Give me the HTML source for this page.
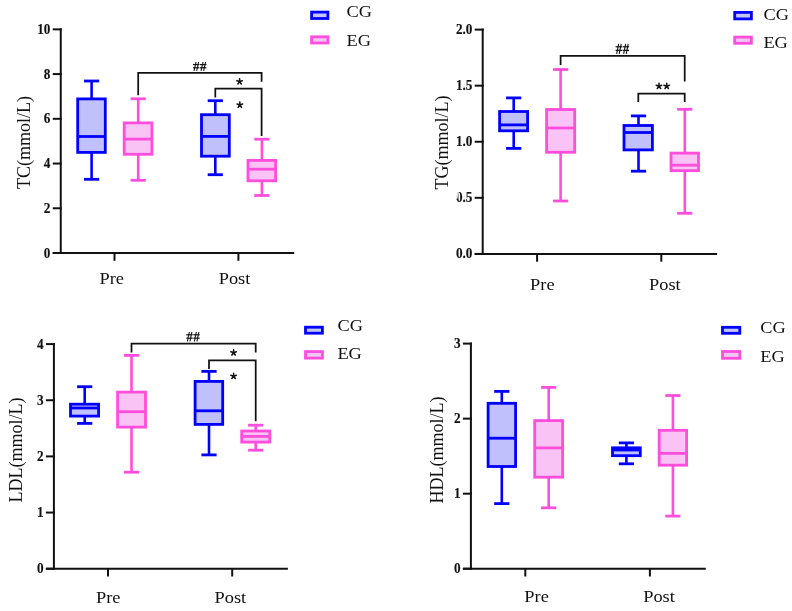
<!DOCTYPE html>
<html><head><meta charset="utf-8"><style>
html,body{margin:0;padding:0;background:#fff;overflow:hidden;}
svg{display:block;font-family:"Liberation Serif",serif;will-change:transform;}
text{fill:#111;}
</style></head><body>
<svg width="792" height="611" viewBox="0 0 792 611">
<rect width="792" height="611" fill="#fff"/>
<line x1="60.75" y1="28.35" x2="60.75" y2="254.00" stroke="#111111" stroke-width="2.0" stroke-linecap="butt"/>
<line x1="52.75" y1="253.00" x2="294.20" y2="253.00" stroke="#111111" stroke-width="2.0" stroke-linecap="butt"/>
<line x1="52.75" y1="253.00" x2="61.75" y2="253.00" stroke="#111111" stroke-width="2.0" stroke-linecap="butt"/>
<text transform="translate(50.45,257.50) scale(0.93,1)" font-size="14.2" font-weight="bold" text-anchor="end" stroke="#111" stroke-width="0.15">0</text>
<line x1="52.75" y1="208.27" x2="61.75" y2="208.27" stroke="#111111" stroke-width="2.0" stroke-linecap="butt"/>
<text transform="translate(50.45,212.77) scale(0.93,1)" font-size="14.2" font-weight="bold" text-anchor="end" stroke="#111" stroke-width="0.15">2</text>
<line x1="52.75" y1="163.54" x2="61.75" y2="163.54" stroke="#111111" stroke-width="2.0" stroke-linecap="butt"/>
<text transform="translate(50.45,168.04) scale(0.93,1)" font-size="14.2" font-weight="bold" text-anchor="end" stroke="#111" stroke-width="0.15">4</text>
<line x1="52.75" y1="118.81" x2="61.75" y2="118.81" stroke="#111111" stroke-width="2.0" stroke-linecap="butt"/>
<text transform="translate(50.45,123.31) scale(0.93,1)" font-size="14.2" font-weight="bold" text-anchor="end" stroke="#111" stroke-width="0.15">6</text>
<line x1="52.75" y1="74.08" x2="61.75" y2="74.08" stroke="#111111" stroke-width="2.0" stroke-linecap="butt"/>
<text transform="translate(50.45,78.58) scale(0.93,1)" font-size="14.2" font-weight="bold" text-anchor="end" stroke="#111" stroke-width="0.15">8</text>
<line x1="52.75" y1="29.35" x2="61.75" y2="29.35" stroke="#111111" stroke-width="2.0" stroke-linecap="butt"/>
<text transform="translate(50.45,33.85) scale(0.93,1)" font-size="14.2" font-weight="bold" text-anchor="end" stroke="#111" stroke-width="0.15">10</text>
<line x1="114.50" y1="253.00" x2="114.50" y2="260.80" stroke="#111111" stroke-width="2.0" stroke-linecap="butt"/>
<line x1="238.40" y1="253.00" x2="238.40" y2="260.80" stroke="#111111" stroke-width="2.0" stroke-linecap="butt"/>
<line x1="91.60" y1="81.00" x2="91.60" y2="98.50" stroke="#0000ff" stroke-width="2.6" stroke-linecap="butt"/>
<line x1="91.60" y1="152.80" x2="91.60" y2="179.30" stroke="#0000ff" stroke-width="2.6" stroke-linecap="butt"/>
<line x1="84.00" y1="81.00" x2="99.20" y2="81.00" stroke="#0000ff" stroke-width="2.8" stroke-linecap="butt"/>
<line x1="84.00" y1="179.30" x2="99.20" y2="179.30" stroke="#0000ff" stroke-width="2.8" stroke-linecap="butt"/>
<rect x="77.70" y="98.90" width="27.60" height="53.50" fill="#c0c0fc" stroke="#0000ff" stroke-width="2.8"/>
<line x1="77.70" y1="136.50" x2="105.30" y2="136.50" stroke="#0000ff" stroke-width="2.8" stroke-linecap="butt"/>
<line x1="138.20" y1="98.80" x2="138.20" y2="122.50" stroke="#ff4ddc" stroke-width="2.6" stroke-linecap="butt"/>
<line x1="138.20" y1="154.70" x2="138.20" y2="180.30" stroke="#ff4ddc" stroke-width="2.6" stroke-linecap="butt"/>
<line x1="130.60" y1="98.80" x2="145.80" y2="98.80" stroke="#ff4ddc" stroke-width="2.8" stroke-linecap="butt"/>
<line x1="130.60" y1="180.30" x2="145.80" y2="180.30" stroke="#ff4ddc" stroke-width="2.8" stroke-linecap="butt"/>
<rect x="124.20" y="122.90" width="27.70" height="31.40" fill="#f9c3f5" stroke="#ff4ddc" stroke-width="2.8"/>
<line x1="124.20" y1="139.10" x2="151.90" y2="139.10" stroke="#ff4ddc" stroke-width="2.8" stroke-linecap="butt"/>
<line x1="215.30" y1="100.70" x2="215.30" y2="114.30" stroke="#0000ff" stroke-width="2.6" stroke-linecap="butt"/>
<line x1="215.30" y1="156.60" x2="215.30" y2="174.70" stroke="#0000ff" stroke-width="2.6" stroke-linecap="butt"/>
<line x1="207.70" y1="100.70" x2="222.90" y2="100.70" stroke="#0000ff" stroke-width="2.8" stroke-linecap="butt"/>
<line x1="207.70" y1="174.70" x2="222.90" y2="174.70" stroke="#0000ff" stroke-width="2.8" stroke-linecap="butt"/>
<rect x="201.50" y="114.70" width="27.80" height="41.50" fill="#c0c0fc" stroke="#0000ff" stroke-width="2.8"/>
<line x1="201.50" y1="136.40" x2="229.30" y2="136.40" stroke="#0000ff" stroke-width="2.8" stroke-linecap="butt"/>
<line x1="261.90" y1="139.20" x2="261.90" y2="160.00" stroke="#ff4ddc" stroke-width="2.6" stroke-linecap="butt"/>
<line x1="261.90" y1="181.20" x2="261.90" y2="195.50" stroke="#ff4ddc" stroke-width="2.6" stroke-linecap="butt"/>
<line x1="254.30" y1="139.20" x2="269.50" y2="139.20" stroke="#ff4ddc" stroke-width="2.8" stroke-linecap="butt"/>
<line x1="254.30" y1="195.50" x2="269.50" y2="195.50" stroke="#ff4ddc" stroke-width="2.8" stroke-linecap="butt"/>
<rect x="248.00" y="160.40" width="27.60" height="20.40" fill="#f9c3f5" stroke="#ff4ddc" stroke-width="2.8"/>
<line x1="248.00" y1="169.20" x2="275.60" y2="169.20" stroke="#ff4ddc" stroke-width="2.8" stroke-linecap="butt"/>
<polyline points="138.20,95.30 138.20,72.80 261.60,72.80 261.60,81.80" fill="none" stroke="#111111" stroke-width="1.75" stroke-linejoin="miter"/>
<polyline points="215.30,97.50 215.30,88.50 261.60,88.50 261.60,136.00" fill="none" stroke="#111111" stroke-width="1.75" stroke-linejoin="miter"/>
<line x1="194.05" y1="70.90" x2="196.05" y2="62.00" stroke="#111" stroke-width="1.1" stroke-linecap="butt"/>
<line x1="196.61" y1="70.90" x2="198.61" y2="62.00" stroke="#111" stroke-width="1.1" stroke-linecap="butt"/>
<line x1="193.00" y1="64.58" x2="199.40" y2="64.58" stroke="#111" stroke-width="1.2" stroke-linecap="butt"/>
<line x1="193.00" y1="67.78" x2="199.40" y2="67.78" stroke="#111" stroke-width="1.2" stroke-linecap="butt"/>
<line x1="201.05" y1="70.90" x2="203.05" y2="62.00" stroke="#111" stroke-width="1.1" stroke-linecap="butt"/>
<line x1="203.61" y1="70.90" x2="205.61" y2="62.00" stroke="#111" stroke-width="1.1" stroke-linecap="butt"/>
<line x1="200.00" y1="64.58" x2="206.40" y2="64.58" stroke="#111" stroke-width="1.2" stroke-linecap="butt"/>
<line x1="200.00" y1="67.78" x2="206.40" y2="67.78" stroke="#111" stroke-width="1.2" stroke-linecap="butt"/>
<path d="M239.60,81.60L239.60,78.70M239.60,81.60L242.36,80.70M239.60,81.60L241.30,83.95M239.60,81.60L237.90,83.95M239.60,81.60L236.84,80.70" stroke="#111" stroke-width="1.55" stroke-linecap="round" fill="none"/>
<path d="M239.80,105.00L239.80,102.10M239.80,105.00L242.56,104.10M239.80,105.00L241.50,107.35M239.80,105.00L238.10,107.35M239.80,105.00L237.04,104.10" stroke="#111" stroke-width="1.55" stroke-linecap="round" fill="none"/>
<rect x="311.60" y="12.10" width="16.30" height="6.40" fill="#c4c4f6" stroke="#0000ff" stroke-width="2.8"/>
<rect x="311.60" y="36.80" width="16.30" height="6.20" fill="#f0c6f4" stroke="#ff4ddc" stroke-width="2.8"/>
<text transform="translate(346.50,17.00) scale(1.08,1)" font-size="17.0" font-weight="normal" text-anchor="start" >CG</text>
<text transform="translate(346.50,46.10) scale(1.08,1)" font-size="17.0" font-weight="normal" text-anchor="start" >EG</text>
<text x="0" y="0" font-size="18" text-anchor="middle" transform="translate(29.60,142.60) rotate(-90)">TC(mmol/L)</text>
<text transform="translate(111.70,283.90) scale(1.08,1)" font-size="17.0" font-weight="normal" text-anchor="middle" >Pre</text>
<text transform="translate(234.50,283.90) scale(1.08,1)" font-size="17.0" font-weight="normal" text-anchor="middle" >Post</text>
<line x1="482.70" y1="28.60" x2="482.70" y2="254.90" stroke="#111111" stroke-width="2.0" stroke-linecap="butt"/>
<line x1="474.70" y1="253.90" x2="717.10" y2="253.90" stroke="#111111" stroke-width="2.0" stroke-linecap="butt"/>
<line x1="474.70" y1="253.90" x2="483.70" y2="253.90" stroke="#111111" stroke-width="2.0" stroke-linecap="butt"/>
<text transform="translate(472.40,258.40) scale(0.93,1)" font-size="14.2" font-weight="bold" text-anchor="end" stroke="#111" stroke-width="0.15">0.0</text>
<line x1="474.70" y1="197.82" x2="483.70" y2="197.82" stroke="#111111" stroke-width="2.0" stroke-linecap="butt"/>
<text transform="translate(472.40,202.32) scale(0.93,1)" font-size="14.2" font-weight="bold" text-anchor="end" stroke="#111" stroke-width="0.15">0.5</text>
<line x1="474.70" y1="141.75" x2="483.70" y2="141.75" stroke="#111111" stroke-width="2.0" stroke-linecap="butt"/>
<text transform="translate(472.40,146.25) scale(0.93,1)" font-size="14.2" font-weight="bold" text-anchor="end" stroke="#111" stroke-width="0.15">1.0</text>
<line x1="474.70" y1="85.67" x2="483.70" y2="85.67" stroke="#111111" stroke-width="2.0" stroke-linecap="butt"/>
<text transform="translate(472.40,90.17) scale(0.93,1)" font-size="14.2" font-weight="bold" text-anchor="end" stroke="#111" stroke-width="0.15">1.5</text>
<line x1="474.70" y1="29.60" x2="483.70" y2="29.60" stroke="#111111" stroke-width="2.0" stroke-linecap="butt"/>
<text transform="translate(472.40,34.10) scale(0.93,1)" font-size="14.2" font-weight="bold" text-anchor="end" stroke="#111" stroke-width="0.15">2.0</text>
<line x1="537.10" y1="253.90" x2="537.10" y2="261.70" stroke="#111111" stroke-width="2.0" stroke-linecap="butt"/>
<line x1="661.30" y1="253.90" x2="661.30" y2="261.70" stroke="#111111" stroke-width="2.0" stroke-linecap="butt"/>
<line x1="513.70" y1="97.90" x2="513.70" y2="111.10" stroke="#0000ff" stroke-width="2.6" stroke-linecap="butt"/>
<line x1="513.70" y1="131.20" x2="513.70" y2="148.40" stroke="#0000ff" stroke-width="2.6" stroke-linecap="butt"/>
<line x1="506.10" y1="97.90" x2="521.30" y2="97.90" stroke="#0000ff" stroke-width="2.8" stroke-linecap="butt"/>
<line x1="506.10" y1="148.40" x2="521.30" y2="148.40" stroke="#0000ff" stroke-width="2.8" stroke-linecap="butt"/>
<rect x="499.60" y="111.50" width="28.00" height="19.30" fill="#c0c0fc" stroke="#0000ff" stroke-width="2.8"/>
<line x1="499.60" y1="124.90" x2="527.60" y2="124.90" stroke="#0000ff" stroke-width="2.8" stroke-linecap="butt"/>
<line x1="560.60" y1="69.50" x2="560.60" y2="109.10" stroke="#ff4ddc" stroke-width="2.6" stroke-linecap="butt"/>
<line x1="560.60" y1="152.70" x2="560.60" y2="201.00" stroke="#ff4ddc" stroke-width="2.6" stroke-linecap="butt"/>
<line x1="553.00" y1="69.50" x2="568.20" y2="69.50" stroke="#ff4ddc" stroke-width="2.8" stroke-linecap="butt"/>
<line x1="553.00" y1="201.00" x2="568.20" y2="201.00" stroke="#ff4ddc" stroke-width="2.8" stroke-linecap="butt"/>
<rect x="546.60" y="109.50" width="28.10" height="42.80" fill="#f9c3f5" stroke="#ff4ddc" stroke-width="2.8"/>
<line x1="546.60" y1="128.00" x2="574.70" y2="128.00" stroke="#ff4ddc" stroke-width="2.8" stroke-linecap="butt"/>
<line x1="638.50" y1="115.90" x2="638.50" y2="125.10" stroke="#0000ff" stroke-width="2.6" stroke-linecap="butt"/>
<line x1="638.50" y1="150.30" x2="638.50" y2="171.20" stroke="#0000ff" stroke-width="2.6" stroke-linecap="butt"/>
<line x1="630.90" y1="115.90" x2="646.10" y2="115.90" stroke="#0000ff" stroke-width="2.8" stroke-linecap="butt"/>
<line x1="630.90" y1="171.20" x2="646.10" y2="171.20" stroke="#0000ff" stroke-width="2.8" stroke-linecap="butt"/>
<rect x="624.00" y="125.50" width="28.40" height="24.40" fill="#c0c0fc" stroke="#0000ff" stroke-width="2.8"/>
<line x1="624.00" y1="132.50" x2="652.40" y2="132.50" stroke="#0000ff" stroke-width="2.8" stroke-linecap="butt"/>
<line x1="684.80" y1="109.30" x2="684.80" y2="152.70" stroke="#ff4ddc" stroke-width="2.6" stroke-linecap="butt"/>
<line x1="684.80" y1="171.10" x2="684.80" y2="213.30" stroke="#ff4ddc" stroke-width="2.6" stroke-linecap="butt"/>
<line x1="677.20" y1="109.30" x2="692.40" y2="109.30" stroke="#ff4ddc" stroke-width="2.8" stroke-linecap="butt"/>
<line x1="677.20" y1="213.30" x2="692.40" y2="213.30" stroke="#ff4ddc" stroke-width="2.8" stroke-linecap="butt"/>
<rect x="671.00" y="153.10" width="27.50" height="17.60" fill="#f9c3f5" stroke="#ff4ddc" stroke-width="2.8"/>
<line x1="671.00" y1="165.20" x2="698.50" y2="165.20" stroke="#ff4ddc" stroke-width="2.8" stroke-linecap="butt"/>
<polyline points="560.60,65.00 560.60,55.80 684.70,55.80 684.70,81.40" fill="none" stroke="#111111" stroke-width="1.75" stroke-linejoin="miter"/>
<polyline points="638.30,101.90 638.30,93.50 684.70,93.50 684.70,101.90" fill="none" stroke="#111111" stroke-width="1.75" stroke-linejoin="miter"/>
<line x1="616.65" y1="53.80" x2="618.65" y2="43.90" stroke="#111" stroke-width="1.1" stroke-linecap="butt"/>
<line x1="619.21" y1="53.80" x2="621.21" y2="43.90" stroke="#111" stroke-width="1.1" stroke-linecap="butt"/>
<line x1="615.60" y1="46.77" x2="622.00" y2="46.77" stroke="#111" stroke-width="1.2" stroke-linecap="butt"/>
<line x1="615.60" y1="50.34" x2="622.00" y2="50.34" stroke="#111" stroke-width="1.2" stroke-linecap="butt"/>
<line x1="623.65" y1="53.80" x2="625.65" y2="43.90" stroke="#111" stroke-width="1.1" stroke-linecap="butt"/>
<line x1="626.21" y1="53.80" x2="628.21" y2="43.90" stroke="#111" stroke-width="1.1" stroke-linecap="butt"/>
<line x1="622.60" y1="46.77" x2="629.00" y2="46.77" stroke="#111" stroke-width="1.2" stroke-linecap="butt"/>
<line x1="622.60" y1="50.34" x2="629.00" y2="50.34" stroke="#111" stroke-width="1.2" stroke-linecap="butt"/>
<path d="M659.00,86.20L659.00,83.30M659.00,86.20L661.76,85.30M659.00,86.20L660.70,88.55M659.00,86.20L657.30,88.55M659.00,86.20L656.24,85.30" stroke="#111" stroke-width="1.55" stroke-linecap="round" fill="none"/>
<path d="M666.70,86.20L666.70,83.30M666.70,86.20L669.46,85.30M666.70,86.20L668.40,88.55M666.70,86.20L665.00,88.55M666.70,86.20L663.94,85.30" stroke="#111" stroke-width="1.55" stroke-linecap="round" fill="none"/>
<rect x="734.70" y="12.40" width="16.70" height="6.50" fill="#c4c4f6" stroke="#0000ff" stroke-width="2.8"/>
<rect x="734.70" y="37.10" width="16.70" height="6.20" fill="#f0c6f4" stroke="#ff4ddc" stroke-width="2.8"/>
<text transform="translate(763.40,19.60) scale(1.08,1)" font-size="17.0" font-weight="normal" text-anchor="start" >CG</text>
<text transform="translate(763.40,48.40) scale(1.08,1)" font-size="17.0" font-weight="normal" text-anchor="start" >EG</text>
<text x="0" y="0" font-size="18" text-anchor="middle" transform="translate(448.40,142.40) rotate(-90)">TG(mmol/L)</text>
<path d="M455,192.3 L459.2,192.3 L458.2,195.5 L457.6,198.6 L455,199.2 Z" fill="#fff" fill-opacity="0.85"/>
<text transform="translate(542.30,290.00) scale(1.08,1)" font-size="17.0" font-weight="normal" text-anchor="middle" >Pre</text>
<text transform="translate(664.90,290.00) scale(1.08,1)" font-size="17.0" font-weight="normal" text-anchor="middle" >Post</text>
<line x1="53.90" y1="343.10" x2="53.90" y2="569.70" stroke="#111111" stroke-width="2.0" stroke-linecap="butt"/>
<line x1="45.90" y1="568.70" x2="287.90" y2="568.70" stroke="#111111" stroke-width="2.0" stroke-linecap="butt"/>
<line x1="45.90" y1="568.70" x2="54.90" y2="568.70" stroke="#111111" stroke-width="2.0" stroke-linecap="butt"/>
<text transform="translate(43.60,573.20) scale(0.93,1)" font-size="14.2" font-weight="bold" text-anchor="end" stroke="#111" stroke-width="0.15">0</text>
<line x1="45.90" y1="512.55" x2="54.90" y2="512.55" stroke="#111111" stroke-width="2.0" stroke-linecap="butt"/>
<text transform="translate(43.60,517.05) scale(0.93,1)" font-size="14.2" font-weight="bold" text-anchor="end" stroke="#111" stroke-width="0.15">1</text>
<line x1="45.90" y1="456.40" x2="54.90" y2="456.40" stroke="#111111" stroke-width="2.0" stroke-linecap="butt"/>
<text transform="translate(43.60,460.90) scale(0.93,1)" font-size="14.2" font-weight="bold" text-anchor="end" stroke="#111" stroke-width="0.15">2</text>
<line x1="45.90" y1="400.25" x2="54.90" y2="400.25" stroke="#111111" stroke-width="2.0" stroke-linecap="butt"/>
<text transform="translate(43.60,404.75) scale(0.93,1)" font-size="14.2" font-weight="bold" text-anchor="end" stroke="#111" stroke-width="0.15">3</text>
<line x1="45.90" y1="344.10" x2="54.90" y2="344.10" stroke="#111111" stroke-width="2.0" stroke-linecap="butt"/>
<text transform="translate(43.60,348.60) scale(0.93,1)" font-size="14.2" font-weight="bold" text-anchor="end" stroke="#111" stroke-width="0.15">4</text>
<line x1="108.00" y1="568.70" x2="108.00" y2="576.50" stroke="#111111" stroke-width="2.0" stroke-linecap="butt"/>
<line x1="232.20" y1="568.70" x2="232.20" y2="576.50" stroke="#111111" stroke-width="2.0" stroke-linecap="butt"/>
<line x1="84.70" y1="386.70" x2="84.70" y2="403.80" stroke="#0000ff" stroke-width="2.6" stroke-linecap="butt"/>
<line x1="84.70" y1="416.50" x2="84.70" y2="423.40" stroke="#0000ff" stroke-width="2.6" stroke-linecap="butt"/>
<line x1="77.10" y1="386.70" x2="92.30" y2="386.70" stroke="#0000ff" stroke-width="2.8" stroke-linecap="butt"/>
<line x1="77.10" y1="423.40" x2="92.30" y2="423.40" stroke="#0000ff" stroke-width="2.8" stroke-linecap="butt"/>
<rect x="70.50" y="404.20" width="28.10" height="11.90" fill="#c0c0fc" stroke="#0000ff" stroke-width="2.8"/>
<line x1="70.50" y1="408.00" x2="98.60" y2="408.00" stroke="#0000ff" stroke-width="2.8" stroke-linecap="butt"/>
<line x1="131.50" y1="355.40" x2="131.50" y2="391.70" stroke="#ff4ddc" stroke-width="2.6" stroke-linecap="butt"/>
<line x1="131.50" y1="427.50" x2="131.50" y2="472.20" stroke="#ff4ddc" stroke-width="2.6" stroke-linecap="butt"/>
<line x1="123.90" y1="355.40" x2="139.10" y2="355.40" stroke="#ff4ddc" stroke-width="2.8" stroke-linecap="butt"/>
<line x1="123.90" y1="472.20" x2="139.10" y2="472.20" stroke="#ff4ddc" stroke-width="2.8" stroke-linecap="butt"/>
<rect x="117.60" y="392.10" width="27.90" height="35.00" fill="#f9c3f5" stroke="#ff4ddc" stroke-width="2.8"/>
<line x1="117.60" y1="411.70" x2="145.50" y2="411.70" stroke="#ff4ddc" stroke-width="2.8" stroke-linecap="butt"/>
<line x1="209.00" y1="371.40" x2="209.00" y2="381.00" stroke="#0000ff" stroke-width="2.6" stroke-linecap="butt"/>
<line x1="209.00" y1="424.80" x2="209.00" y2="454.90" stroke="#0000ff" stroke-width="2.6" stroke-linecap="butt"/>
<line x1="201.40" y1="371.40" x2="216.60" y2="371.40" stroke="#0000ff" stroke-width="2.8" stroke-linecap="butt"/>
<line x1="201.40" y1="454.90" x2="216.60" y2="454.90" stroke="#0000ff" stroke-width="2.8" stroke-linecap="butt"/>
<rect x="195.10" y="381.40" width="27.60" height="43.00" fill="#c0c0fc" stroke="#0000ff" stroke-width="2.8"/>
<line x1="195.10" y1="410.80" x2="222.70" y2="410.80" stroke="#0000ff" stroke-width="2.8" stroke-linecap="butt"/>
<line x1="255.70" y1="425.20" x2="255.70" y2="430.60" stroke="#ff4ddc" stroke-width="2.6" stroke-linecap="butt"/>
<line x1="255.70" y1="442.50" x2="255.70" y2="450.20" stroke="#ff4ddc" stroke-width="2.6" stroke-linecap="butt"/>
<line x1="248.10" y1="425.20" x2="263.30" y2="425.20" stroke="#ff4ddc" stroke-width="2.8" stroke-linecap="butt"/>
<line x1="248.10" y1="450.20" x2="263.30" y2="450.20" stroke="#ff4ddc" stroke-width="2.8" stroke-linecap="butt"/>
<rect x="241.70" y="431.00" width="28.10" height="11.10" fill="#f9c3f5" stroke="#ff4ddc" stroke-width="2.8"/>
<line x1="241.70" y1="436.40" x2="269.80" y2="436.40" stroke="#ff4ddc" stroke-width="2.8" stroke-linecap="butt"/>
<polyline points="131.50,352.60 131.50,343.60 255.70,343.60 255.70,352.50" fill="none" stroke="#111111" stroke-width="1.75" stroke-linejoin="miter"/>
<polyline points="209.00,368.90 209.00,360.30 255.70,360.30 255.70,421.30" fill="none" stroke="#111111" stroke-width="1.75" stroke-linejoin="miter"/>
<line x1="187.35" y1="341.50" x2="189.35" y2="332.00" stroke="#111" stroke-width="1.1" stroke-linecap="butt"/>
<line x1="189.91" y1="341.50" x2="191.91" y2="332.00" stroke="#111" stroke-width="1.1" stroke-linecap="butt"/>
<line x1="186.30" y1="334.75" x2="192.70" y2="334.75" stroke="#111" stroke-width="1.2" stroke-linecap="butt"/>
<line x1="186.30" y1="338.18" x2="192.70" y2="338.18" stroke="#111" stroke-width="1.2" stroke-linecap="butt"/>
<line x1="194.35" y1="341.50" x2="196.35" y2="332.00" stroke="#111" stroke-width="1.1" stroke-linecap="butt"/>
<line x1="196.91" y1="341.50" x2="198.91" y2="332.00" stroke="#111" stroke-width="1.1" stroke-linecap="butt"/>
<line x1="193.30" y1="334.75" x2="199.70" y2="334.75" stroke="#111" stroke-width="1.2" stroke-linecap="butt"/>
<line x1="193.30" y1="338.18" x2="199.70" y2="338.18" stroke="#111" stroke-width="1.2" stroke-linecap="butt"/>
<path d="M233.60,352.70L233.60,349.80M233.60,352.70L236.36,351.80M233.60,352.70L235.30,355.05M233.60,352.70L231.90,355.05M233.60,352.70L230.84,351.80" stroke="#111" stroke-width="1.55" stroke-linecap="round" fill="none"/>
<path d="M233.60,376.20L233.60,373.30M233.60,376.20L236.36,375.30M233.60,376.20L235.30,378.55M233.60,376.20L231.90,378.55M233.60,376.20L230.84,375.30" stroke="#111" stroke-width="1.55" stroke-linecap="round" fill="none"/>
<rect x="305.50" y="327.20" width="16.90" height="6.00" fill="#c4c4f6" stroke="#0000ff" stroke-width="2.8"/>
<rect x="305.50" y="351.60" width="16.90" height="6.50" fill="#f0c6f4" stroke="#ff4ddc" stroke-width="2.8"/>
<text transform="translate(337.40,330.80) scale(1.08,1)" font-size="17.0" font-weight="normal" text-anchor="start" >CG</text>
<text transform="translate(337.40,359.40) scale(1.08,1)" font-size="17.0" font-weight="normal" text-anchor="start" >EG</text>
<text x="0" y="0" font-size="18" text-anchor="middle" transform="translate(22.00,450.00) rotate(-90)">LDL(mmol/L)</text>
<text transform="translate(108.20,602.80) scale(1.08,1)" font-size="17.0" font-weight="normal" text-anchor="middle" >Pre</text>
<text transform="translate(230.40,602.80) scale(1.08,1)" font-size="17.0" font-weight="normal" text-anchor="middle" >Post</text>
<line x1="470.90" y1="342.60" x2="470.90" y2="569.70" stroke="#111111" stroke-width="2.0" stroke-linecap="butt"/>
<line x1="462.90" y1="568.70" x2="705.80" y2="568.70" stroke="#111111" stroke-width="2.0" stroke-linecap="butt"/>
<line x1="462.90" y1="568.70" x2="471.90" y2="568.70" stroke="#111111" stroke-width="2.0" stroke-linecap="butt"/>
<text transform="translate(460.60,573.20) scale(0.93,1)" font-size="14.2" font-weight="bold" text-anchor="end" stroke="#111" stroke-width="0.15">0</text>
<line x1="462.90" y1="493.67" x2="471.90" y2="493.67" stroke="#111111" stroke-width="2.0" stroke-linecap="butt"/>
<text transform="translate(460.60,498.17) scale(0.93,1)" font-size="14.2" font-weight="bold" text-anchor="end" stroke="#111" stroke-width="0.15">1</text>
<line x1="462.90" y1="418.63" x2="471.90" y2="418.63" stroke="#111111" stroke-width="2.0" stroke-linecap="butt"/>
<text transform="translate(460.60,423.13) scale(0.93,1)" font-size="14.2" font-weight="bold" text-anchor="end" stroke="#111" stroke-width="0.15">2</text>
<line x1="462.90" y1="343.60" x2="471.90" y2="343.60" stroke="#111111" stroke-width="2.0" stroke-linecap="butt"/>
<text transform="translate(460.60,348.10) scale(0.93,1)" font-size="14.2" font-weight="bold" text-anchor="end" stroke="#111" stroke-width="0.15">3</text>
<line x1="525.30" y1="568.70" x2="525.30" y2="576.50" stroke="#111111" stroke-width="2.0" stroke-linecap="butt"/>
<line x1="649.90" y1="568.70" x2="649.90" y2="576.50" stroke="#111111" stroke-width="2.0" stroke-linecap="butt"/>
<line x1="501.80" y1="391.40" x2="501.80" y2="402.90" stroke="#0000ff" stroke-width="2.6" stroke-linecap="butt"/>
<line x1="501.80" y1="466.90" x2="501.80" y2="503.60" stroke="#0000ff" stroke-width="2.6" stroke-linecap="butt"/>
<line x1="494.20" y1="391.40" x2="509.40" y2="391.40" stroke="#0000ff" stroke-width="2.8" stroke-linecap="butt"/>
<line x1="494.20" y1="503.60" x2="509.40" y2="503.60" stroke="#0000ff" stroke-width="2.8" stroke-linecap="butt"/>
<rect x="488.10" y="403.30" width="27.50" height="63.20" fill="#c0c0fc" stroke="#0000ff" stroke-width="2.8"/>
<line x1="488.10" y1="438.20" x2="515.60" y2="438.20" stroke="#0000ff" stroke-width="2.8" stroke-linecap="butt"/>
<line x1="548.70" y1="387.40" x2="548.70" y2="420.20" stroke="#ff4ddc" stroke-width="2.6" stroke-linecap="butt"/>
<line x1="548.70" y1="477.60" x2="548.70" y2="507.80" stroke="#ff4ddc" stroke-width="2.6" stroke-linecap="butt"/>
<line x1="541.10" y1="387.40" x2="556.30" y2="387.40" stroke="#ff4ddc" stroke-width="2.8" stroke-linecap="butt"/>
<line x1="541.10" y1="507.80" x2="556.30" y2="507.80" stroke="#ff4ddc" stroke-width="2.8" stroke-linecap="butt"/>
<rect x="534.70" y="420.60" width="27.90" height="56.60" fill="#f9c3f5" stroke="#ff4ddc" stroke-width="2.8"/>
<line x1="534.70" y1="447.90" x2="562.60" y2="447.90" stroke="#ff4ddc" stroke-width="2.8" stroke-linecap="butt"/>
<line x1="626.40" y1="442.90" x2="626.40" y2="447.40" stroke="#0000ff" stroke-width="2.6" stroke-linecap="butt"/>
<line x1="626.40" y1="456.10" x2="626.40" y2="463.80" stroke="#0000ff" stroke-width="2.6" stroke-linecap="butt"/>
<line x1="618.80" y1="442.90" x2="634.00" y2="442.90" stroke="#0000ff" stroke-width="2.8" stroke-linecap="butt"/>
<line x1="618.80" y1="463.80" x2="634.00" y2="463.80" stroke="#0000ff" stroke-width="2.8" stroke-linecap="butt"/>
<rect x="612.50" y="447.80" width="27.80" height="7.90" fill="#c0c0fc" stroke="#0000ff" stroke-width="2.8"/>
<line x1="612.50" y1="450.00" x2="640.30" y2="450.00" stroke="#0000ff" stroke-width="2.8" stroke-linecap="butt"/>
<line x1="672.90" y1="395.50" x2="672.90" y2="429.90" stroke="#ff4ddc" stroke-width="2.6" stroke-linecap="butt"/>
<line x1="672.90" y1="465.60" x2="672.90" y2="516.10" stroke="#ff4ddc" stroke-width="2.6" stroke-linecap="butt"/>
<line x1="665.30" y1="395.50" x2="680.50" y2="395.50" stroke="#ff4ddc" stroke-width="2.8" stroke-linecap="butt"/>
<line x1="665.30" y1="516.10" x2="680.50" y2="516.10" stroke="#ff4ddc" stroke-width="2.8" stroke-linecap="butt"/>
<rect x="659.20" y="430.30" width="27.40" height="34.90" fill="#f9c3f5" stroke="#ff4ddc" stroke-width="2.8"/>
<line x1="659.20" y1="453.40" x2="686.60" y2="453.40" stroke="#ff4ddc" stroke-width="2.8" stroke-linecap="butt"/>
<rect x="722.50" y="327.30" width="17.30" height="6.00" fill="#c4c4f6" stroke="#0000ff" stroke-width="2.8"/>
<rect x="722.50" y="351.50" width="17.30" height="6.80" fill="#f0c6f4" stroke="#ff4ddc" stroke-width="2.8"/>
<text transform="translate(760.30,332.60) scale(1.08,1)" font-size="17.0" font-weight="normal" text-anchor="start" >CG</text>
<text transform="translate(760.30,361.90) scale(1.08,1)" font-size="17.0" font-weight="normal" text-anchor="start" >EG</text>
<text x="0" y="0" font-size="18" text-anchor="middle" transform="translate(442.60,450.00) rotate(-90)">HDL(mmol/L)</text>
<text transform="translate(536.60,601.70) scale(1.08,1)" font-size="17.0" font-weight="normal" text-anchor="middle" >Pre</text>
<text transform="translate(659.00,601.70) scale(1.08,1)" font-size="17.0" font-weight="normal" text-anchor="middle" >Post</text>
</svg>
</body></html>
